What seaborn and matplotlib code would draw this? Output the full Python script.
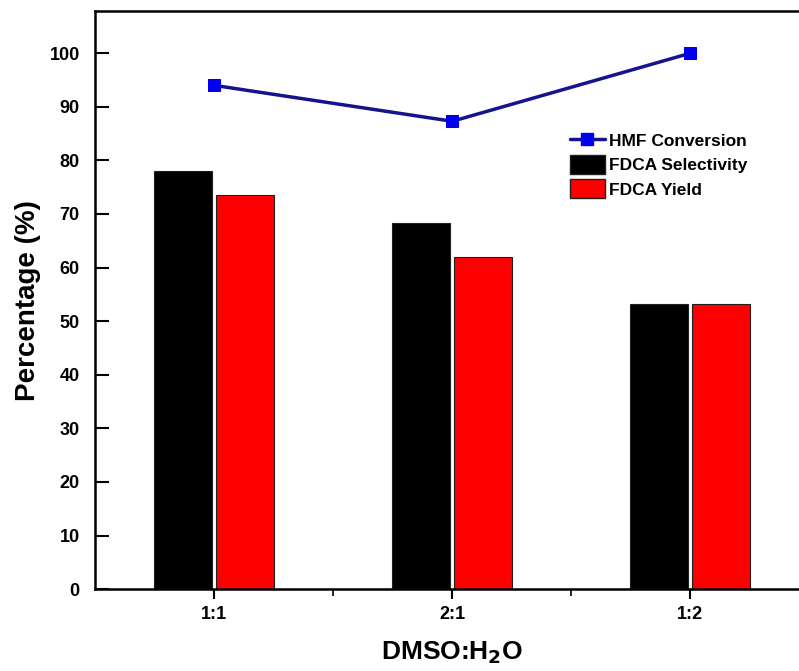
import matplotlib
matplotlib.use("Agg")
import matplotlib.pyplot as plt
import seaborn as sns
import pandas as pd
from matplotlib.lines import Line2D
from matplotlib.patches import Patch
from matplotlib.ticker import FixedLocator

ratios = ["1:1", "2:1", "1:2"]
selectivity = [78.0, 68.3, 53.2]
yield_ = [73.5, 61.9, 53.2]
conversion = [94.0, 87.3, 100.0]
series_names = ["FDCA Selectivity", "FDCA Yield"]
line_name = "HMF Conversion"

sns.set_theme(style="white")
plt.rcParams["font.family"] = ["Liberation Sans", "DejaVu Sans"]
plt.rcParams["font.weight"] = "bold"
plt.rcParams["text.color"] = "black"
plt.rcParams["axes.labelcolor"] = "black"
plt.rcParams["xtick.color"] = "black"
plt.rcParams["ytick.color"] = "black"

df = pd.DataFrame({
    "ratio": ratios * 2,
    "value": selectivity + yield_,
    "series": [series_names[0]] * 3 + [series_names[1]] * 3,
})

fig = plt.figure(figsize=(7.99, 6.71), dpi=100)
ax = fig.add_axes([0.119, 0.122, 0.894, 0.861])

sns.barplot(data=df, x="ratio", y="value", hue="series", order=ratios,
            hue_order=series_names, palette=["#000000", "#ff0000"],
            saturation=1, width=0.52, gap=0.06, edgecolor="#202020",
            linewidth=0.8, ax=ax, legend=False)

sns.lineplot(x=[0, 1, 2], y=conversion, ax=ax, color="#14148c", linewidth=2.5,
             marker="s", markersize=9, markerfacecolor="#0000ee",
             markeredgecolor="#0000ee", legend=False)

ax.set_xlim(-0.5, 2.5)
ax.set_ylim(0, 107.8)
ax.set_yticks(range(0, 101, 10))
ax.set_xticks([0, 1, 2])
ax.set_xticklabels(ratios)
ax.xaxis.set_minor_locator(FixedLocator([0.5, 1.5]))

for s in ax.spines.values():
    s.set_color("black")
    s.set_linewidth(1.8)
ax.spines["right"].set_visible(False)

ax.tick_params(axis="y", direction="in", length=10, width=1.5, labelsize=13,
               left=True, pad=11, colors="black")
ax.tick_params(axis="x", which="major", direction="out", length=7, width=1.5,
               labelsize=13, bottom=True, pad=5, colors="black")
ax.tick_params(axis="x", which="minor", direction="out", length=5, width=1.2,
               bottom=True, colors="black")
for lbl in ax.get_xticklabels() + ax.get_yticklabels():
    lbl.set_fontweight("bold")

ax.set_ylabel("Percentage (%)", fontsize=20, fontweight="bold", labelpad=6,
              color="black")
ax.set_xlabel("DMSO:H$_2$O", fontsize=19, fontweight="bold", labelpad=12,
              color="black")

handles = [
    Line2D([0], [0], color="#14148c", linewidth=2.5, marker="s", markersize=9,
           markerfacecolor="#0000ee", markeredgecolor="#0000ee"),
    Patch(facecolor="#000000", edgecolor="#202020"),
    Patch(facecolor="#ff0000", edgecolor="#202020"),
]
leg = ax.legend(handles, [line_name] + series_names, loc="upper left",
                bbox_to_anchor=(0.655, 0.805), frameon=False,
                prop={"weight": "bold", "size": 12.5}, handlelength=2.0,
                handleheight=1.3, labelspacing=0.3, handletextpad=0.25,
                borderaxespad=0)
for t in leg.get_texts():
    t.set_color("black")

fig.savefig("out.png", dpi=100)
